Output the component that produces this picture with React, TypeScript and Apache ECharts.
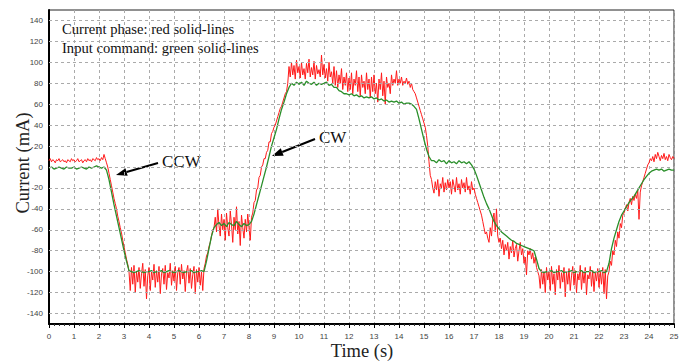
import React, { useEffect, useRef } from "react";
import * as echarts from "echarts";

// Sampling steps of the recorded traces (s)
const redStep = 0.05;
const greenStep = 0.1;

// Current phase (red): one row per second, 20 samples per row (t = k.00 .. k.95), last = 25.0
const redValues: number[] = [
  6, 8, 5, 7, 6, 4, 7, 6, 8, 5, 6, 7, 5, 6, 4, 7, 6, 5, 8, 6,
  7, 5, 6, 8, 5, 6, 7, 4, 6, 7, 5, 8, 6, 7, 5, 8, 7, 6, 9, 7,
  8, 6, 9, 7, 12, 8, 4, 0, -6, -12, -18, -24, -30, -35, -40, -47, -52, -58, -63, -70,
  -76, -82, -88, -93, -100, -118, -96, -112, -94, -120, -100, -110, -96, -116, -102, -92, -114, -98, -126, -104,
  -96, -118, -100, -108, -93, -115, -99, -110, -95, -121, -102, -97, -112, -94, -117, -101, -106, -92, -113, -99,
  -109, -95, -118, -101, -96, -112, -93, -107, -99, -119, -100, -94, -111, -97, -116, -103, -95, -121, -98, -110,
  -96, -113, -100, -118, -97, -92, -85, -82, -76, -72, -66, -60, -58, -48, -62, -40, -56, -66, -45, -60,
  -50, -70, -44, -58, -66, -42, -55, -72, -48, -60, -38, -64, -52, -75, -46, -58, -68, -50, -62, -45,
  -58, -70, -48, -44, -34, -32, -22, -20, -10, -8, 0, 2, 8, 8, 14, 16, 24, 24, 32, 34,
  38, 40, 44, 48, 52, 56, 58, 62, 66, 70, 72, 80, 96, 86, 100, 88, 97, 84, 102, 90,
  96, 85, 100, 88, 94, 84, 99, 90, 103, 86, 95, 88, 101, 84, 97, 89, 93, 86, 107, 88,
  98, 85, 94, 82, 100, 86, 91, 80, 96, 78, 92, 76, 88, 80, 94, 74, 86, 78, 90, 72,
  85, 74, 90, 70, 84, 78, 92, 72, 86, 68, 88, 76, 82, 70, 90, 74, 84, 66, 86, 72,
  88, 70, 80, 62, 84, 74, 90, 68, 82, 60, 86, 76, 80, 70, 88, 78, 84, 80, 92, 78,
  84, 80, 86, 78, 82, 80, 85, 79, 82, 76, 80, 74, 72, 70, 66, 62, 58, 54, 50, 46,
  42, 38, 30, 20, 5, -8, -12, -20, -25, -14, -22, -12, -28, -16, -20, -10, -24, -15, -22, -12,
  -20, -14, -26, -12, -18, -24, -10, -22, -16, -26, -12, -20, -15, -24, -10, -22, -18, -26, -14, -22,
  -20, -26, -30, -34, -38, -42, -46, -52, -58, -64, -62, -68, -72, -58, -66, -50, -44, -62, -40, -66,
  -72, -68, -78, -70, -84, -74, -80, -72, -88, -76, -82, -70, -86, -78, -74, -90, -80, -72, -84, -78,
  -92, -86, -103, -80, -84, -78, -88, -82, -92, -86, -96, -100, -104, -116, -98, -112, -100, -120, -96, -108,
  -100, -118, -95, -112, -102, -122, -98, -108, -94, -116, -101, -110, -96, -124, -100, -112, -97, -118, -104, -95,
  -113, -99, -120, -102, -108, -94, -117, -100, -111, -96, -122, -103, -107, -95, -114, -99, -119, -101, -109, -97,
  -115, -100, -112, -96, -121, -98, -126, -104, -100, -90, -94, -80, -84, -70, -76, -62, -68, -54, -58, -46,
  -44, -40, -36, -42, -34, -30, -36, -28, -32, -26, -30, -22, -50, -24, -18, -14, -10, -6, -2, 2,
  4, 8, 6, 10, 5, 12, 8, 14, 10, 6, 11, 8, 13, 7, 10, 6, 12, 9, 7, 10,
  8,
];

// Input command (green): one row per second, 10 samples per row, last = 25.0
const greenValues: number[] = [
  -1, 0, -2, -1, 0, -1, -2, 0, -1, -1,
  0, -2, -1, 0, -1, -2, 0, -1, 0, 1,
  0, -1, 0, -3, -12, -24, -36, -47, -58, -69,
  -80, -90, -99, -100, -101, -100, -99, -100, -101, -100,
  -100, -99, -101, -100, -100, -99, -101, -100, -99, -100,
  -101, -100, -99, -100, -101, -100, -100, -99, -101, -100,
  -100, -99, -100, -90, -78, -66, -58, -55, -53, -56,
  -54, -57, -53, -55, -56, -52, -55, -57, -54, -56,
  -55, -52, -45, -36, -27, -18, -9, 0, 10, 20,
  28, 36, 46, 55, 62, 70, 76, 80, 78, 81,
  79, 81, 78, 82, 80, 79, 81, 78, 80, 79,
  80, 81, 78, 79, 76, 76, 73, 72, 70, 70,
  69, 70, 68, 69, 67, 68, 66, 67, 66, 67,
  65, 66, 64, 65, 63, 64, 62, 63, 62, 63,
  61, 62, 60, 61, 61, 60, 58, 55, 46, 36,
  26, 17, 10, 6, 6, 4, 7, 5, 6, 3,
  6, 4, 5, 3, 6, 4, 5, 3, 5, 2,
  -2, -8, -15, -22, -29, -35, -40, -46, -52, -56,
  -59, -62, -64, -66, -68, -70, -71, -73, -74, -75,
  -76, -77, -78, -79, -80, -88, -97, -100, -101, -100,
  -100, -99, -101, -100, -100, -99, -101, -100, -100, -99,
  -101, -100, -100, -99, -101, -100, -100, -99, -101, -100,
  -100, -99, -101, -100, -92, -78, -68, -60, -52, -46,
  -42, -38, -34, -31, -28, -24, -20, -16, -12, -9,
  -6, -4, -3, -2, -3, -2, -4, -3, -2, -3,
  -3,
];

// Y tick labels / horizontal grid lines
const yGridValues: number[] = [-140, -120, -100, -80, -60, -40, -20, 0, 20, 40, 60, 80, 100, 120, 140];

const legendLines: string[] = [
  "Current phase: red solid-lines",
  "Input command: green solid-lines",
];

function arrow(x1: number, y1: number, x2: number, y2: number) {
  const dx = x2 - x1;
  const dy = y2 - y1;
  const len = Math.sqrt(dx * dx + dy * dy);
  const ux = dx / len;
  const uy = dy / len;
  const hl = 11;
  const hw = 4;
  const bx = x2 - ux * hl;
  const by = y2 - uy * hl;
  const px = -uy;
  const py = ux;
  return [
    {
      type: "line",
      shape: { x1, y1, x2: bx, y2: by },
      style: { stroke: "#000", lineWidth: 2 },
      silent: true,
    },
    {
      type: "polygon",
      shape: {
        points: [
          [x2, y2],
          [bx + px * hw, by + py * hw],
          [bx - px * hw, by - py * hw],
        ],
      },
      style: { fill: "#000" },
      silent: true,
    },
  ];
}

export default function App() {
  const ref = useRef<HTMLDivElement>(null);

  useEffect(() => {
    document.body.style.margin = "0";
    if (!ref.current) return;
    const chart = echarts.init(ref.current, null, { renderer: "svg" });

    const redData = redValues.map((v, i) => [Math.round(i * redStep * 100) / 100, v]);
    const greenData = greenValues.map((v, i) => [Math.round(i * greenStep * 100) / 100, v]);

    const serif = "Liberation Serif";
    const sans = "Liberation Sans";

    chart.setOption({
      animation: false,
      backgroundColor: "#fff",
      grid: {
        left: 49,
        right: 12,
        top: 10,
        bottom: 37,
        show: true,
        borderColor: "#222",
        borderWidth: 1,
        backgroundColor: "transparent",
      },
      xAxis: {
        type: "value",
        min: 0,
        max: 25,
        interval: 1,
        axisLine: { show: true, onZero: false, lineStyle: { color: "#000", width: 2 } },
        axisTick: { show: true, length: 4, lineStyle: { color: "#000" } },
        minorTick: { show: true, splitNumber: 5, length: 2, lineStyle: { color: "#333" } },
        axisLabel: { fontFamily: sans, fontSize: 8, color: "#444", margin: 8 },
        splitLine: { show: true, lineStyle: { color: "#aaa", type: [3, 3], width: 1 } },
      },
      yAxis: {
        type: "value",
        min: -150,
        max: 150,
        interval: 10,
        axisLine: { show: true, onZero: false, lineStyle: { color: "#000", width: 2 } },
        axisTick: { show: false },
        axisLabel: {
          fontFamily: sans,
          fontSize: 8,
          color: "#444",
          margin: 6,
          formatter: (v: number) => (yGridValues.indexOf(Math.round(v)) >= 0 ? String(Math.round(v)) : ""),
        },
        splitLine: { show: false },
      },
      series: [
        {
          type: "line",
          name: "grid",
          data: [[0, 0]],
          showSymbol: false,
          symbol: "none",
          lineStyle: { opacity: 0 },
          silent: true,
          z: 1,
          markLine: {
            silent: true,
            symbol: ["none", "none"],
            label: { show: false },
            lineStyle: { color: "#aaa", type: [3, 3], width: 1 },
            data: yGridValues.map((v) => ({ yAxis: v })),
          },
        },
        {
          type: "line",
          name: "Current phase",
          data: redData,
          showSymbol: false,
          symbol: "none",
          lineStyle: { color: "#ff1a1a", width: 1 },
          z: 2,
        },
        {
          type: "line",
          name: "Input command",
          data: greenData,
          showSymbol: false,
          symbol: "none",
          lineStyle: { color: "#2a8f2a", width: 1.3 },
          z: 3,
        },
      ],
      graphic: [
        {
          type: "text",
          left: 62,
          top: 21,
          style: { text: legendLines[0], font: `14.6px "${serif}"`, fill: "#111" },
          silent: true,
        },
        {
          type: "text",
          left: 62,
          top: 40,
          style: { text: legendLines[1], font: `14.6px "${serif}"`, fill: "#111" },
          silent: true,
        },
        {
          type: "text",
          x: 23,
          y: 163,
          rotation: Math.PI / 2,
          style: {
            text: "Current (mA)",
            font: `18.5px "${serif}"`,
            fill: "#222",
            align: "center",
            verticalAlign: "middle",
          },
          silent: true,
        },
        {
          type: "text",
          x: 362,
          y: 351,
          style: {
            text: "Time (s)",
            font: `18.5px "${serif}"`,
            fill: "#222",
            align: "center",
            verticalAlign: "middle",
          },
          silent: true,
        },
        {
          type: "text",
          x: 162,
          y: 161,
          style: { text: "CCW", font: `17px "${serif}"`, fill: "#111", verticalAlign: "middle" },
          silent: true,
        },
        {
          type: "text",
          x: 319,
          y: 137,
          style: { text: "CW", font: `17px "${serif}"`, fill: "#111", verticalAlign: "middle" },
          silent: true,
        },
        ...arrow(158, 163, 116, 175),
        ...arrow(315, 139, 272, 156),
      ],
    });

    return () => {
      chart.dispose();
    };
  }, []);

  return <div ref={ref} style={{ width: 686, height: 361 }} />;
}
